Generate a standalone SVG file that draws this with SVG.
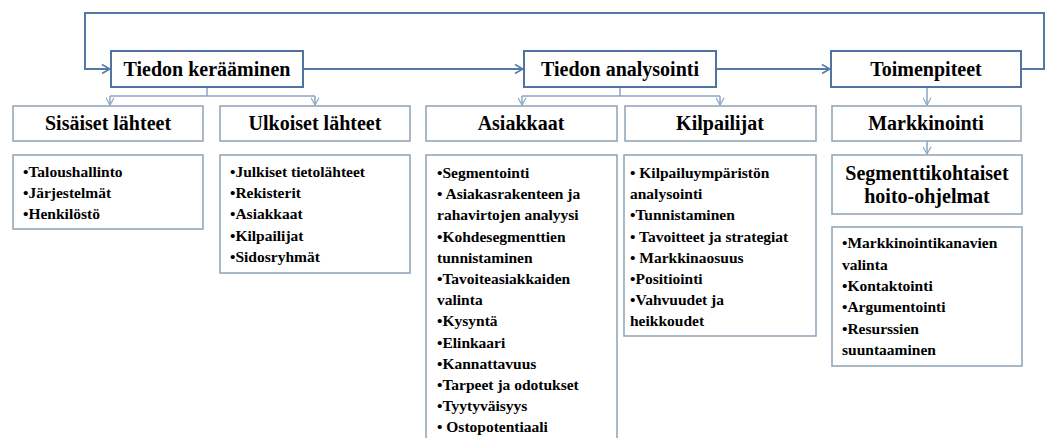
<svg xmlns="http://www.w3.org/2000/svg" width="1047" height="438" viewBox="0 0 1047 438">
<style>
text{font-family:'Liberation Serif','DejaVu Serif','Times New Roman',serif;font-weight:bold;fill:#000}
.top{fill:#fff;stroke:#4f74a0;stroke-width:2}
.box{fill:#fff;stroke:#8ea2b4;stroke-width:1.5}
.h1{font-size:20px;text-anchor:middle}
.h2{font-size:20px;text-anchor:middle}
.t{font-size:15.5px}
.c1{fill:none;stroke:#5479a6;stroke-width:2}
.c2{fill:none;stroke:#8aa4c2;stroke-width:1.5}
</style>
<defs>
<marker id="a1" viewBox="0 0 10 10" refX="9" refY="5" markerWidth="10" markerHeight="10" markerUnits="userSpaceOnUse" orient="auto">
<path d="M1 0.5 L9 5 L1 9.5" fill="none" stroke="#5479a6" stroke-width="1.6"/>
</marker>
<marker id="a2" viewBox="0 0 10 10" refX="9" refY="5" markerWidth="9" markerHeight="9" markerUnits="userSpaceOnUse" orient="auto">
<path d="M1 0.5 L9 5 L1 9.5" fill="none" stroke="#8aa4c2" stroke-width="1.3"/>
</marker>
</defs>
<rect width="1047" height="438" fill="#fff"/>
<g id="connectors">
<path class="c1" d="M1021 69 H1044 V13 H85 V69 H110" marker-end="url(#a1)"/>
<path class="c1" d="M303 69 H523" marker-end="url(#a1)"/>
<path class="c1" d="M716 69 H830" marker-end="url(#a1)"/>
<path class="c2" d="M207 87 V96 M110 96 H315"/>
<path class="c2" d="M110 96 V105" marker-end="url(#a2)"/>
<path class="c2" d="M315 96 V105" marker-end="url(#a2)"/>
<path class="c2" d="M620 87 V96 M522 96 H720"/>
<path class="c2" d="M522 96 V105" marker-end="url(#a2)"/>
<path class="c2" d="M720 96 V105" marker-end="url(#a2)"/>
<path class="c2" d="M927 87 V105" marker-end="url(#a2)"/>
<path class="c2" d="M927 141 V154" marker-end="url(#a2)"/>
</g>
<g id="tiedon-keraaminen"><rect class="top" x="111" y="51" width="192" height="36"/><text class="h1" x="207" y="76" font-family="Liberation Serif, serif">Tiedon kerääminen</text></g>
<g id="tiedon-analysointi"><rect class="top" x="524" y="51" width="192" height="36"/><text class="h1" x="620" y="76">Tiedon analysointi</text></g>
<g id="toimenpiteet"><rect class="top" x="831" y="51" width="190" height="36"/><text class="h1" x="926" y="76">Toimenpiteet</text></g>
<g id="sisaiset"><rect class="box" x="13" y="106" width="190" height="35"/><text class="h2" x="108" y="130">Sisäiset lähteet</text></g>
<g id="ulkoiset"><rect class="box" x="220" y="106" width="190" height="35"/><text class="h2" x="315" y="130">Ulkoiset lähteet</text></g>
<g id="asiakkaat"><rect class="box" x="426" y="106" width="191" height="35"/><text class="h2" x="521" y="130">Asiakkaat</text></g>
<g id="kilpailijat"><rect class="box" x="625" y="106" width="191" height="35"/><text class="h2" x="720" y="130">Kilpailijat</text></g>
<g id="markkinointi"><rect class="box" x="832" y="106" width="189" height="35"/><text class="h2" x="926" y="130">Markkinointi</text></g>
<g id="segmenttikohtaiset"><rect class="box" x="832" y="155" width="190" height="59"/><text class="h2" x="927" y="180">Segmenttikohtaiset</text><text class="h2" x="927" y="203">hoito-ohjelmat</text></g>
<g id="sisaiset-lista"><rect class="box" x="13" y="155" width="190" height="74"/>
<text class="t" x="23" y="177">•Taloushallinto</text>
<text class="t" x="23" y="198">•Järjestelmät</text>
<text class="t" x="23" y="219">•Henkilöstö</text></g>
<g id="ulkoiset-lista"><rect class="box" x="220" y="155" width="190" height="118"/>
<text class="t" x="230" y="177">•Julkiset tietolähteet</text>
<text class="t" x="230" y="198">•Rekisterit</text>
<text class="t" x="230" y="219">•Asiakkaat</text>
<text class="t" x="230" y="241">•Kilpailijat</text>
<text class="t" x="230" y="262">•Sidosryhmät</text></g>
<g id="asiakkaat-lista"><path class="box" d="M426 440 V155 H617 V440"/>
<text class="t" x="437" y="178">•Segmentointi</text>
<text class="t" x="437" y="199">• Asiakasrakenteen ja</text>
<text class="t" x="437" y="220">rahavirtojen analyysi</text>
<text class="t" x="437" y="242">•Kohdesegmenttien</text>
<text class="t" x="437" y="263">tunnistaminen</text>
<text class="t" x="437" y="284">•Tavoiteasiakkaiden</text>
<text class="t" x="437" y="305">valinta</text>
<text class="t" x="437" y="326">•Kysyntä</text>
<text class="t" x="437" y="348">•Elinkaari</text>
<text class="t" x="437" y="369">•Kannattavuus</text>
<text class="t" x="437" y="390">•Tarpeet ja odotukset</text>
<text class="t" x="437" y="411">•Tyytyväisyys</text>
<text class="t" x="437" y="432">• Ostopotentiaali</text></g>
<g id="kilpailijat-lista"><rect class="box" x="624" y="155" width="192" height="181"/>
<text class="t" x="630" y="178">• Kilpailuympäristön</text>
<text class="t" x="630" y="199">analysointi</text>
<text class="t" x="630" y="220">•Tunnistaminen</text>
<text class="t" x="630" y="242">• Tavoitteet ja strategiat</text>
<text class="t" x="630" y="263">• Markkinaosuus</text>
<text class="t" x="630" y="284">•Positiointi</text>
<text class="t" x="630" y="305">•Vahvuudet ja</text>
<text class="t" x="630" y="326">heikkoudet</text></g>
<g id="markkinointi-lista"><rect class="box" x="832" y="227" width="190" height="139"/>
<text class="t" x="842" y="248">•Markkinointikanavien</text>
<text class="t" x="842" y="270">valinta</text>
<text class="t" x="842" y="291">•Kontaktointi</text>
<text class="t" x="842" y="312">•Argumentointi</text>
<text class="t" x="842" y="334">•Resurssien</text>
<text class="t" x="842" y="355">suuntaaminen</text></g>
</svg>
